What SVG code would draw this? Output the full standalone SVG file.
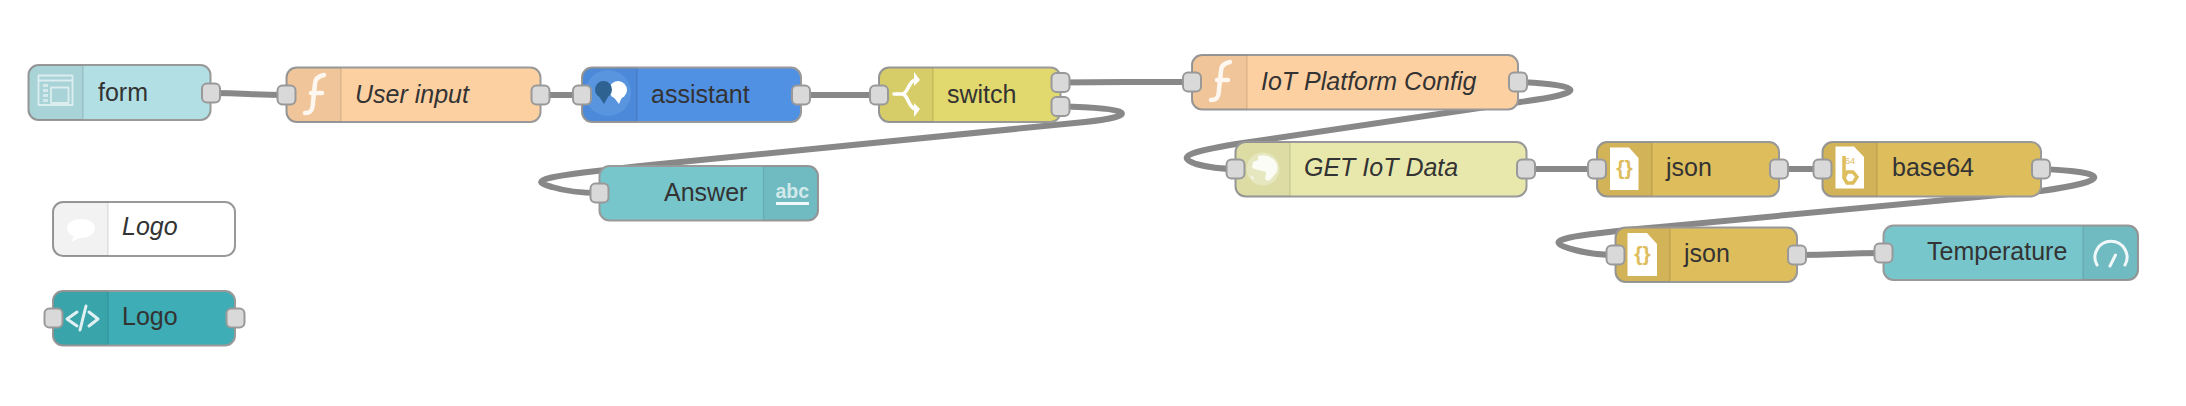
<svg xmlns="http://www.w3.org/2000/svg" width="2186" height="406" viewBox="0 0 2186 406">
<style>
.w{fill:none;stroke:#888;stroke-width:6}
.b{stroke:#999;stroke-width:2}
.h{fill:#000;fill-opacity:.05}
.d{stroke:#000;stroke-opacity:.1;stroke-width:1.5}
.p{fill:#d9d9d9;stroke:#999;stroke-width:2}
.t{font-family:"Liberation Sans",Arial,sans-serif;font-size:25px;fill:#333}
.i{font-style:italic}
.ic{fill:#fff;stroke:none}
.il{fill:none;stroke:#fff;stroke-linecap:round;stroke-linejoin:round}
</style>
<rect width="2186" height="406" fill="#fff"/>
<g id="connectors">
<path class="w" d="M211 93C249 93 248 95 286 95"/>
<path class="w" d="M540 95C561 95 561 95 582 95"/>
<path class="w" d="M801 95C840 95 840 95 879 95"/>
<path class="w" d="M1060 82.500C1126 82 1126 82 1192 82"/>
<path class="w" d="M1060 106.500C1135 108 1140 116 1085 122L650 165C545 176 525 180 552 187C565 191 580 193 599 193"/>
<path class="w" d="M1518 82C1585 85 1590 93 1520 102L1236 144C1188 152 1176 157 1196 164C1207 167 1220 169 1235 169"/>
<path class="w" d="M1526 169L1597 169"/>
<path class="w" d="M1779 169L1822 169"/>
<path class="w" d="M2041 169C2112 172 2112 181 2041 191L1660 227C1570 235 1535 240 1575 250C1590 254 1600 255 1615 255"/>
<path class="w" d="M1797 255C1840 255 1840 253 1883 253"/>
</g>
<g id="form"><rect class="b" x="28.500" y="65" width="182" height="55" rx="10" fill="#b1dfe3"/><path class="h" d="M38.500 65H83V120H38.500a10 10 0 0 1-10-10V75a10 10 0 0 1 10-10z"/><path class="d" d="M83 66V119"/>
<g class="il" stroke-width="1.800" opacity=".6"><rect x="38.500" y="75.500" width="34" height="29.500"/><path d="M38.500 80.500H72.500"/><rect x="51" y="87.500" width="17.500" height="15.500"/></g><path class="ic" opacity=".5" d="M43 84h5v3h-5zM43 89h5v3h-5zM43 94h5v3h-5zM43 99h5v3h-5z"/>
<text class="t" x="98" y="101">form</text><rect class="p" x="202" y="83.500" width="18" height="19" rx="5"/></g>
<g id="user-input"><rect class="b" x="286.500" y="67.500" width="254" height="54.500" rx="10" fill="#fdd0a2"/><path class="h" d="M296.500 67.500H341V122H296.500a10 10 0 0 1-10-10V77.500a10 10 0 0 1 10-10z"/><path class="d" d="M341 68.500V121"/>
<path class="il" stroke-width="4.500" opacity=".85" d="M305 113C311 113 313 110 313 102L315 84C315 78 319 76 324 75M311 93H322"/>
<text class="t i" x="355" y="103">User input</text><rect class="p" x="277.500" y="85.500" width="18" height="19" rx="5"/><rect class="p" x="531.500" y="85.500" width="18" height="19" rx="5"/></g>
<g id="assistant"><rect class="b" x="582" y="67.500" width="219" height="54.500" rx="10" fill="#5191e4"/><path class="h" d="M592 67.500H637V122H592a10 10 0 0 1-10-10V77.500a10 10 0 0 1 10-10z"/><path class="d" d="M637 68.500V121"/>
<circle cx="608" cy="93" r="23" fill="#6ea5ea" opacity=".4"/><circle class="ic" cx="618" cy="90" r="9"/><path class="ic" d="M612 95l7 9 4-9z"/><circle cx="603.500" cy="89.500" r="8.500" fill="#2e6290"/><path fill="#2e6290" d="M598 95l6 9 5-9z"/>
<text class="t" x="651" y="103">assistant</text><rect class="p" x="573" y="85.500" width="18" height="19" rx="5"/><rect class="p" x="792" y="85.500" width="18" height="19" rx="5"/></g>
<g id="switch"><rect class="b" x="879" y="67.500" width="181.500" height="54.500" rx="10" fill="#e2d96e"/><path class="h" d="M889 67.500H933V122H889a10 10 0 0 1-10-10V77.500a10 10 0 0 1 10-10z"/><path class="d" d="M933 68.500V121"/>
<path class="il" stroke-width="3.500" d="M894 94H902C908 94 908 82 915 80M902 94C908 94 908 107 915 109"/><path class="ic" d="M914 72l6 8-6 6zM914 103l6 6-6 8z"/>
<text class="t" x="947" y="103">switch</text><rect class="p" x="870" y="85.500" width="18" height="19" rx="5"/><rect class="p" x="1051.500" y="73" width="18" height="19" rx="5"/><rect class="p" x="1051.500" y="97" width="18" height="19" rx="5"/></g>
<g id="answer"><rect class="b" x="599.500" y="166" width="218.500" height="54.500" rx="10" fill="#77c6cc"/><path class="h" d="M763.500 166H808a10 10 0 0 1 10 10V210.500a10 10 0 0 1-10 10H763.500z"/><path class="d" d="M763.500 167V219.500"/>
<text x="775.500" y="198" font-family="'Liberation Sans',sans-serif" font-size="19.500" font-weight="bold" fill="#fff" fill-opacity=".7">abc</text><path class="ic" opacity=".9" d="M776 202h33v3h-33z"/>
<text class="t" x="664" y="201">Answer</text><rect class="p" x="590.500" y="183.500" width="18" height="19" rx="5"/></g>
<g id="iot-platform-config"><rect class="b" x="1192" y="55" width="326" height="54.500" rx="10" fill="#fdd0a2"/><path class="h" d="M1202 55H1247V109.500H1202a10 10 0 0 1-10-10V65a10 10 0 0 1 10-10z"/><path class="d" d="M1247 56V108.500"/>
<path class="il" stroke-width="4.500" opacity=".85" d="M1211 100C1217 100 1219 97 1219 89L1221 71C1221 65 1225 63 1230 62M1217 80H1228"/>
<text class="t i" x="1261" y="90">IoT Platform Config</text><rect class="p" x="1183" y="72.500" width="18" height="19" rx="5"/><rect class="p" x="1509" y="72.500" width="18" height="19" rx="5"/></g>
<g id="get-iot-data"><rect class="b" x="1235.500" y="142" width="291" height="54.500" rx="10" fill="#e8e8ad"/><path class="h" d="M1245.500 142H1290V196.500H1245.500a10 10 0 0 1-10-10V152a10 10 0 0 1 10-10z"/><path class="d" d="M1290 143V195.500"/>
<circle cx="1263" cy="169" r="16.500" fill="#fff" opacity=".3"/><path class="ic" opacity=".85" d="M1258 156c6-2 14 0 18 6 2 4 2 8 0 11l-5 6-3 2-3-2 1-7-8-2-6-2 1-6 5-2zM1250 175l4 3-1 2z"/>
<text class="t i" x="1304" y="176">GET IoT Data</text><rect class="p" x="1226.500" y="159.500" width="18" height="19" rx="5"/><rect class="p" x="1517" y="159.500" width="18" height="19" rx="5"/></g>
<g id="json-1"><rect class="b" x="1597" y="142" width="182" height="54.500" rx="10" fill="#debd5c"/><path class="h" d="M1607 142H1652V196.500H1607a10 10 0 0 1-10-10V152a10 10 0 0 1 10-10z"/><path class="d" d="M1652 143V195.500"/>
<path class="ic" d="M1610 147.500H1629L1638.500 158V190H1610z"/><text x="1624.500" y="175" text-anchor="middle" font-family="'Liberation Sans',sans-serif" font-size="21" font-weight="bold" fill="#debd5c">{}</text>
<text class="t" x="1666" y="176">json</text><rect class="p" x="1588" y="159.500" width="18" height="19" rx="5"/><rect class="p" x="1770" y="159.500" width="18" height="19" rx="5"/></g>
<g id="base64"><rect class="b" x="1822.500" y="142" width="218.500" height="54.500" rx="10" fill="#debd5c"/><path class="h" d="M1832.500 142H1877V196.500H1832.500a10 10 0 0 1-10-10V152a10 10 0 0 1 10-10z"/><path class="d" d="M1877 143V195.500"/>
<path class="ic" d="M1835.500 146.500H1854L1864 157V188.500H1835.500z"/><path d="M1844 156V178M1846 172H1853L1857 177L1853 183H1847L1844 178L1847 172" fill="none" stroke="#debd5c" stroke-width="3.500"/><text x="1845" y="164" font-family="'Liberation Sans',sans-serif" font-size="9" fill="#debd5c">64</text>
<text class="t" x="1892" y="176">base64</text><rect class="p" x="1813.500" y="159.500" width="18" height="19" rx="5"/><rect class="p" x="2032" y="159.500" width="18" height="19" rx="5"/></g>
<g id="json-2"><rect class="b" x="1615.500" y="227.500" width="181.500" height="54.500" rx="10" fill="#debd5c"/><path class="h" d="M1625.500 227.500H1670V282H1625.500a10 10 0 0 1-10-10V237.500a10 10 0 0 1 10-10z"/><path class="d" d="M1670 228.500V281"/>
<path class="ic" d="M1627.500 233H1647L1657 244V276H1627.500z"/><text x="1642.500" y="261" text-anchor="middle" font-family="'Liberation Sans',sans-serif" font-size="21" font-weight="bold" fill="#debd5c">{}</text>
<text class="t" x="1684" y="262">json</text><rect class="p" x="1606.500" y="245.500" width="18" height="19" rx="5"/><rect class="p" x="1788" y="245.500" width="18" height="19" rx="5"/></g>
<g id="temperature"><rect class="b" x="1883.500" y="225.500" width="254.500" height="54.500" rx="10" fill="#77c6cc"/><path class="h" d="M2083 225.500H2128a10 10 0 0 1 10 10V270a10 10 0 0 1-10 10H2083z"/><path class="d" d="M2083 226.500V279"/>
<path class="il" stroke-width="3" opacity=".9" d="M2097 265A16 16 0 1 1 2125 265M2110 266L2115.500 255"/>
<text class="t" x="1927" y="260">Temperature</text><rect class="p" x="1874.500" y="243.500" width="18" height="19" rx="5"/></g>
<g id="comment-logo"><rect class="b" x="53" y="202" width="182" height="54" rx="10" fill="#fff"/><path class="h" d="M63 202H108V256H63a10 10 0 0 1-10-10V212a10 10 0 0 1 10-10z" fill-opacity=".04"/><path class="d" d="M108 203V255"/>
<path class="ic" d="M81 219c-6 0-14 3-14 9 0 4 3 7 7 8l-3 6 9-4c10 0 15-5 15-10s-6-9-14-9z"/>
<text class="t i" x="122" y="235">Logo</text></g>
<g id="template-logo"><rect class="b" x="53" y="291" width="182" height="54.500" rx="10" fill="#3eadb5"/><path class="h" d="M63 291H108V345.500H63a10 10 0 0 1-10-10V301a10 10 0 0 1 10-10z"/><path class="d" d="M108 292V344.500"/>
<path class="il" stroke-width="3" opacity=".85" d="M77 312L67 319L77 326M86 306L80 330M89 312L98 319L89 326"/>
<text class="t" x="122" y="325">Logo</text><rect class="p" x="44.500" y="308.500" width="18" height="19" rx="5"/><rect class="p" x="226.500" y="308.500" width="18" height="19" rx="5"/></g>
</svg>
